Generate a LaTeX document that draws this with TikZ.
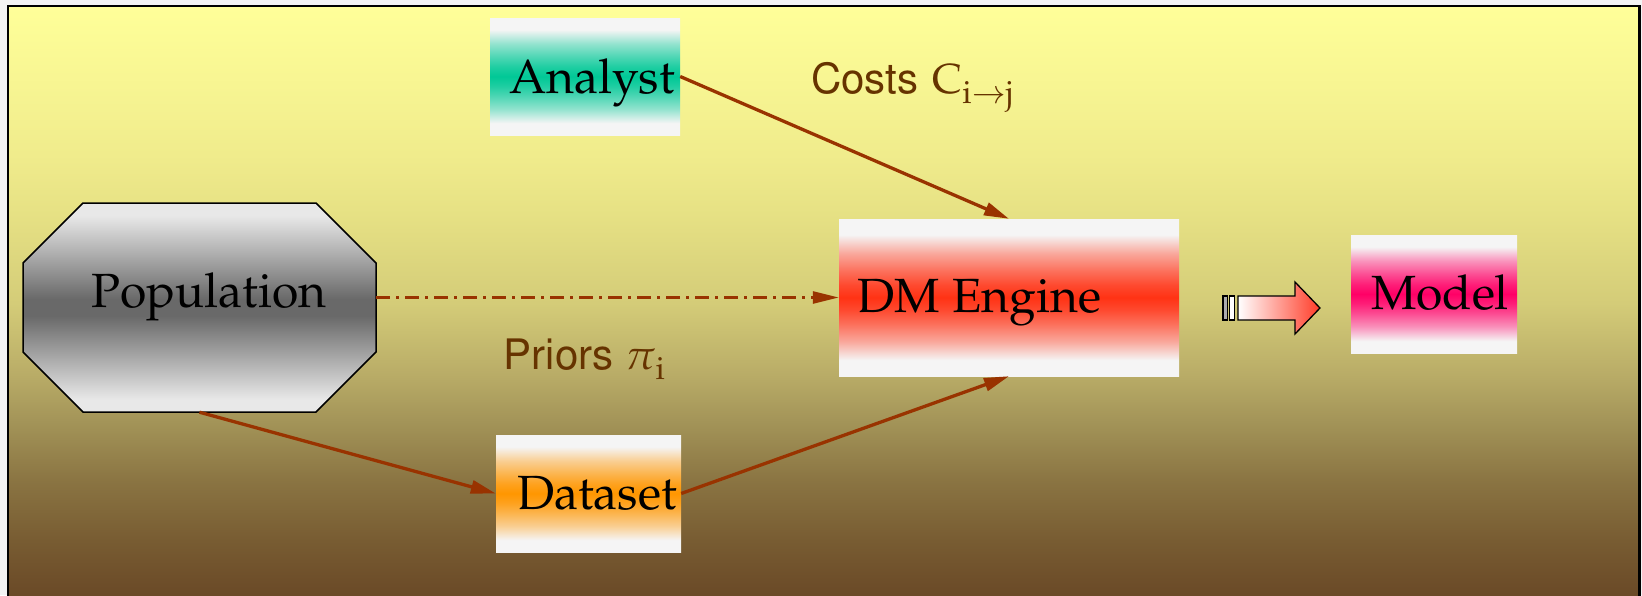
\documentclass[tikz,border=0pt]{standalone}
\usepackage[T1]{fontenc}
\usepackage{mathpazo}
\usepackage{helvet}
\usetikzlibrary{arrows.meta}

\definecolor{edgec}{RGB}{245,245,245}
\definecolor{cAnalyst}{RGB}{0,200,150}
\definecolor{cDM}{RGB}{255,50,20}
\definecolor{cModel}{RGB}{255,0,102}
\definecolor{cData}{RGB}{255,150,0}
\definecolor{popEdge}{RGB}{232,232,232}
\definecolor{popMid}{RGB}{105,105,105}
\definecolor{linec}{RGB}{153,51,0}
\definecolor{labelc}{RGB}{102,51,0}
\definecolor{outside}{RGB}{243,243,243}
\definecolor{arrowred}{RGB}{255,60,40}
\definecolor{bgA}{RGB}{255,255,153}
\definecolor{bgB}{RGB}{240,236,140}
\definecolor{bgC}{RGB}{230,225,132}
\definecolor{bgD}{RGB}{212,204,120}
\definecolor{bgE}{RGB}{185,172,103}
\definecolor{bgF}{RGB}{163,148,88}
\definecolor{bgG}{RGB}{138,116,66}
\definecolor{bgH}{RGB}{120,92,50}
\definecolor{bgI}{RGB}{105,72,38}

\newcommand{\mkband}[3]{%
\pgfdeclareverticalshading{#1}{100bp}{color(0bp)=(#2); color(30bp)=(#2);
 color(36bp)=(#3!40!#2); color(41.5bp)=(#3!68!#2); color(46bp)=(#3!88!#2);
 color(50bp)=(#3); color(54bp)=(#3!88!#2); color(58.5bp)=(#3!68!#2);
 color(64bp)=(#3!40!#2); color(70bp)=(#2); color(100bp)=(#2)}}
\mkband{bandAnalyst}{edgec}{cAnalyst}
\mkband{bandDM}{edgec}{cDM}
\mkband{bandModel}{edgec}{cModel}
\mkband{bandData}{edgec}{cData}
\pgfdeclareverticalshading{popsh}{100bp}{color(0bp)=(popEdge); color(28bp)=(popEdge);
 color(48bp)=(popMid); color(52bp)=(popMid); color(72bp)=(popEdge); color(100bp)=(popEdge)}
\pgfdeclareverticalshading{bgsh}{100bp}{color(0bp)=(bgI); color(25bp)=(bgI);
 color(30bp)=(bgH); color(35bp)=(bgG); color(40bp)=(bgF); color(44bp)=(bgE);
 color(50bp)=(bgD); color(57.5bp)=(bgC); color(62.5bp)=(bgB); color(75bp)=(bgA);
 color(100bp)=(bgA)}

\newcommand{\subtxt}[1]{\hbox{\fontsize{32}{34}\selectfont\rmfamily #1}}

\begin{document}
\begin{tikzpicture}[x=1pt,y=-1pt,
  box/.style={inner sep=0pt, font=\fontsize{48}{52}\selectfont, shade},
  conn/.style={draw=linec, line width=3.3pt, -{Triangle[length=25pt,width=13pt]}},
  dashconn/.style={draw=linec, line width=2.5pt, dash pattern=on 14pt off 6pt on 3pt off 6pt,
    -{Triangle[length=26pt,width=12pt]}},
  lbl/.style={anchor=base west, inner sep=0pt, text=labelc, font=\fontsize{42}{48}\selectfont\sffamily},
  bar/.style={draw=black, line width=1.3pt}]
\useasboundingbox (0,0) rectangle (1642,595);
\fill[outside] (0,0) rectangle (1642,595);
\shade[shading=bgsh] (8,6) rectangle (1639.5,600);
\draw[line width=2.5pt] (8,6) rectangle (1639.5,600);

% Population octagon
\shade[shading=popsh, draw=black, line width=1.5pt]
  (83,203) -- (316,203) -- (376,263) -- (376,352) -- (316,412) -- (83,412)
  -- (23,352) -- (23,263) -- cycle;
\node[inner sep=0pt, minimum width=353pt, minimum height=209pt,
  font=\fontsize{48}{52}\selectfont, text height=17pt, text depth=18pt]
  (pop) at (199.5,307.5) {\hspace*{19pt}Population};

\node[box, shading=bandAnalyst, minimum width=190pt, minimum height=117pt,
  text height=34pt, text depth=1pt] (analyst) at (585,76.5) {\hspace*{14pt}Analyst};
\node[box, shading=bandDM, minimum width=340pt, minimum height=157pt,
  text height=30pt, text depth=1pt] (dm) at (1009,297.5) {DM Engine\hspace*{59pt}};
\node[box, shading=bandModel, minimum width=166pt, minimum height=118pt,
  text height=31pt, text depth=1pt] (model) at (1434,294) {\hspace*{12pt}Model};
\node[box, shading=bandData, minimum width=185pt, minimum height=117pt,
  text height=32pt, text depth=1pt] (data) at (588.5,493.5) {\hspace*{17pt}Dataset};

% connectors
\draw[conn] (analyst.east) -- (dm.north);
\draw[conn] (pop.south) -- (data.west);
\draw[conn] (data.east) -- (dm.south);
\draw[dashconn] (pop.east |- dm.west) -- (dm.west);

% labels
\node[lbl] (costs) at (811,93) {Costs\,\,$\mathrm{C}\raisebox{-10pt}{\subtxt{i$\to$j}}$};
\node[lbl] (priors) at (503,369) {Priors $\pi\raisebox{-10pt}{\subtxt{i}}$};

% big arrow
\draw[bar, fill=gray!65] (1223,296) rectangle (1227.5,320);
\draw[bar, fill=white] (1229.5,296) rectangle (1234.5,320);
\shade[left color=white, right color=arrowred, draw=black, line width=1.3pt]
  (1238,296) -- (1295,296) -- (1295,282) -- (1320,308) -- (1295,334)
  -- (1295,320) -- (1238,320) -- cycle;
\end{tikzpicture}
\end{document}
